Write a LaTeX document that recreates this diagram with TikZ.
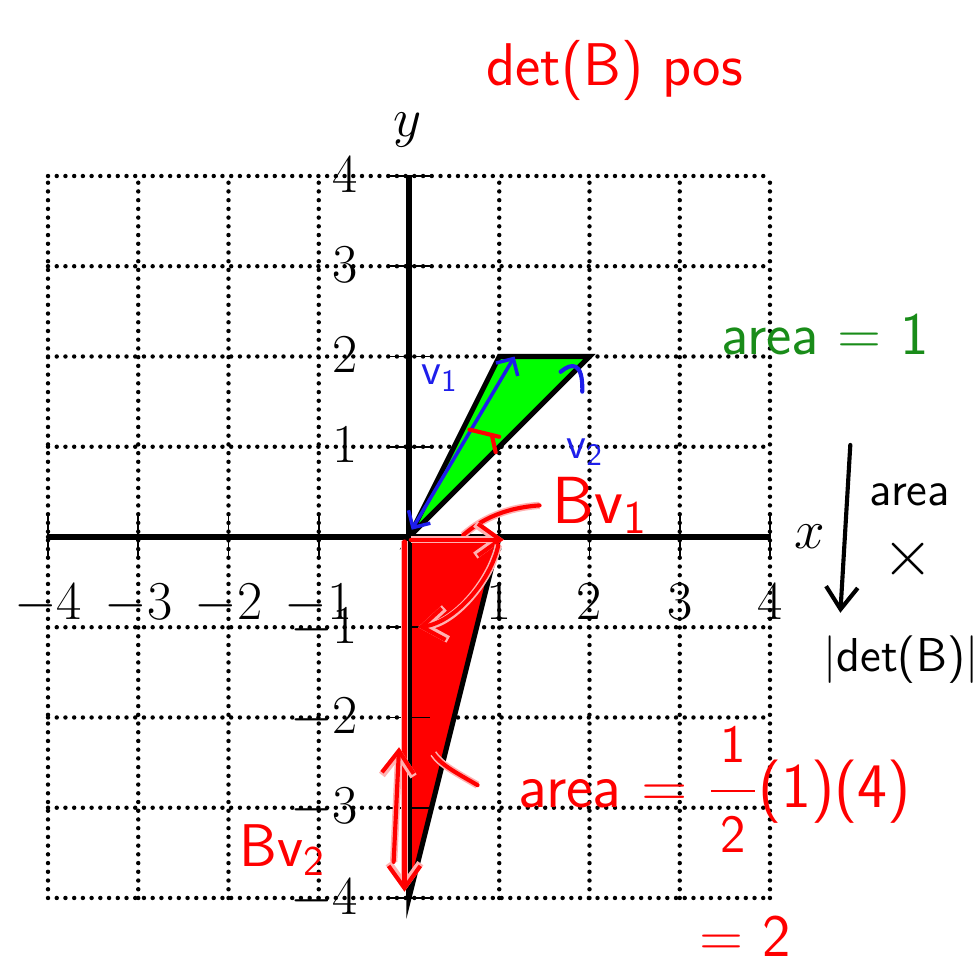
\documentclass[tikz,border=0pt]{standalone}
\usepackage{amsmath}
\usepackage{fontspec}
\usetikzlibrary{arrows.meta}
\definecolor{inkgreen}{RGB}{25,140,25}
\definecolor{inkblue}{RGB}{30,30,235}

\begin{document}
\begin{tikzpicture}[
  gridline/.style={line width=1.4pt, line cap=round, dash pattern=on 0pt off 2.75pt},
  axis/.style={line width=1.6pt},
  tickmark/.style={line width=0.6pt},
  num/.style={font=\fontsize{16}{19}\selectfont, inner sep=0pt},
  hand/.style={font=\sffamily\fontsize{20}{24}\selectfont, inner sep=0pt},
  ink/.style={line width=1.3pt, line cap=round, line join=round},
  inkred/.style={ink, red, preaction={draw=white!70!red, line width=2.3pt}},
  tip/.style={-{Straight Barb[length=7pt,width=10pt]}}]
\useasboundingbox (-4.532,-4.787) rectangle (6.305,5.950);
\draw[gridline] (-4,-4) grid (4,4);
% triangles
\filldraw[axis, fill=green] (0,0) -- (1,2) -- (2,2) -- cycle;
\filldraw[axis, fill=red] (0,0) -- (1,0) -- (0,-4) -- cycle;
\draw[axis] (-4,0) -- (4,0);
\draw[axis] (0,-4) -- (0,4);
\foreach \k in {-4,...,-1,1,2,3,4} {
  \draw[tickmark] (\k,-0.23) -- (\k,0.23);
  \draw[tickmark] (-0.23,\k) -- (0.23,\k);
  \node[num, anchor=base] (xl\k) at (\k,-0.91) {$\k$};
  \node[num, anchor=base east] (yl\k) at (-0.56,\k-0.18) {$\k$};
}
\node[num] (xlab) at (4.44,0) {$x$};
\node[num] (ylab) at (-0.02,4.51) {$y$};
% notes
\node[hand, red, font=\sffamily\fontsize{19}{23}\selectfont] (detpos) at (2.28,5.17) {det(B) pos};
\node[hand, inkgreen, font=\sffamily\fontsize{19}{23}\selectfont] (areaone) at (4.61,2.24) {area = 1};
\node[hand, inkblue, font=\sffamily\fontsize{14}{17}\selectfont] (vone) at (0.34,1.76) {v\textsubscript{1}};
\node[hand, inkblue, font=\sffamily\fontsize{14}{17}\selectfont] (vtwo) at (1.95,0.94) {v\textsubscript{2}};
\node[hand, red, font=\sffamily\fontsize{21}{25}\selectfont] (bvone) at (2.12,0.35) {Bv\textsubscript{1}};
\node[hand, red, font=\sffamily\fontsize{19}{23}\selectfont] (bvtwo) at (-1.40,-3.47) {Bv\textsubscript{2}};
\node[hand, font=\sffamily\fontsize{15}{18}\selectfont] (areablk) at (5.55,0.47) {area};
\node[hand] (times) at (5.53,-0.25) {$\times$};
\node[hand, font=\sffamily\fontsize{15}{18}\selectfont] (absdet) at (5.45,-1.36) {|det(B)|};
\node[hand, red] (areahalf) at (3.39,-2.80)
  {area = $\dfrac{\text{\fontsize{17}{20}\selectfont\,1\,}}{\text{\fontsize{17}{20}\selectfont\,2\,}}$(1)(4)};
\node[hand, red, font=\sffamily\fontsize{19}{23}\selectfont] (equaltwo) at (3.72,-4.42) {= 2};
% strokes
\draw[ink, tip] (4.89,1.02) -- (4.78,-0.84);
\draw[ink, inkblue, line width=1.1pt, {Straight Barb[length=4pt]}-{Straight Barb[length=4pt]}] (0.03,0.08) -- (1.17,2.0);
\draw[ink, inkblue] (1.68,1.83) .. controls (1.8,1.93) and (1.93,1.95) .. (1.92,1.61);
\draw[ink, red] (0.67,1.19) -- (1.0,1.11);
\draw[ink, red] (0.92,1.12) -- (0.96,0.94);
\draw[inkred] ([xshift=-4pt]bvone.west) .. controls (1.0,0.32) and (0.75,0.15) .. (0.6,0.02);
\draw[inkred, tip] (0.02,-0.03) -- (1.05,-0.03);
\draw[inkred, tip] (0.99,-0.09) .. controls (0.9,-0.5) and (0.5,-0.95) .. (0.1,-1.0);
\draw[inkred, tip] (-0.05,-0.05) -- (-0.05,-3.93);
\draw[inkred, tip] (-0.17,-3.6) -- (-0.11,-2.33);
\draw[inkred] (0.27,-2.40) .. controls (0.35,-2.52) and (0.5,-2.6) .. (0.76,-2.75);
\end{tikzpicture}
\end{document}
